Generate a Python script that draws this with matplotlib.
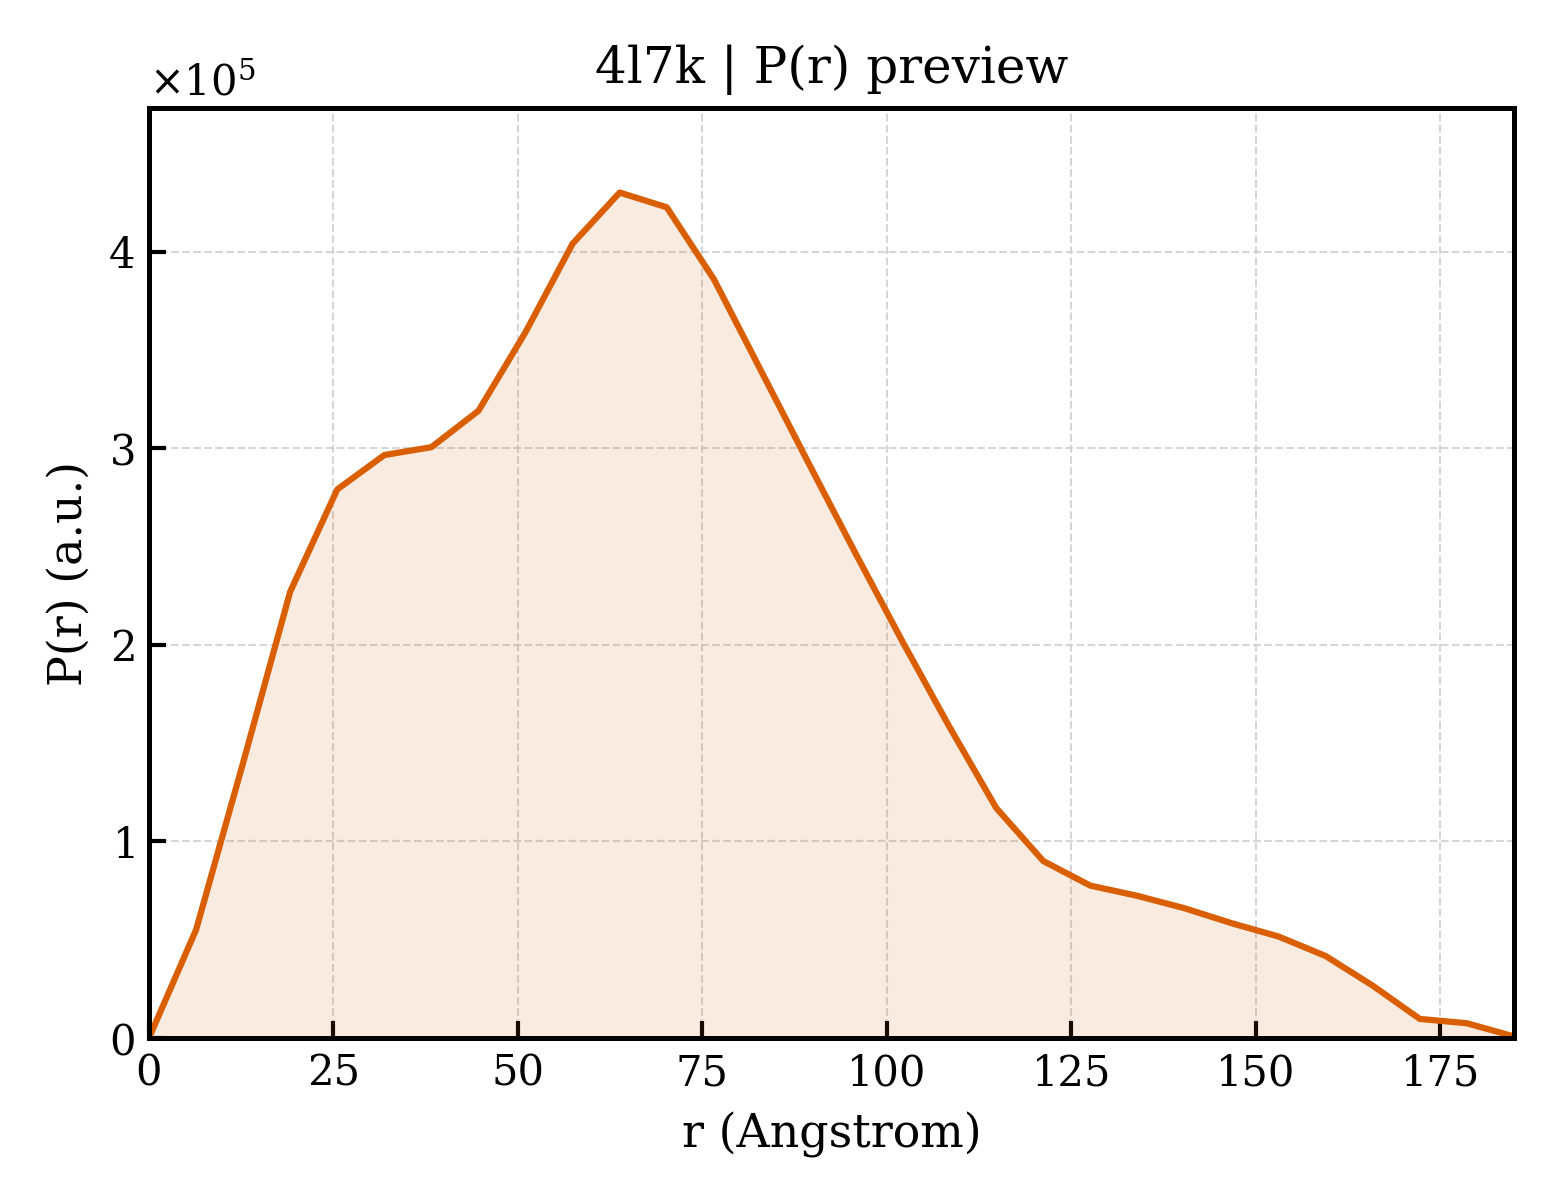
import numpy as np
import matplotlib
matplotlib.use("Agg")
import matplotlib.pyplot as plt
from matplotlib.ticker import ScalarFormatter

plt.rcParams['font.family'] = ['DejaVu Serif']
plt.rcParams['mathtext.fontset'] = 'dejavuserif'

r_max = 185.0
n_points = 30
r = np.linspace(0, r_max, n_points)
pr = np.array([
    0.00, 0.55, 1.40, 2.27, 2.79, 2.965, 3.005, 3.19, 3.59, 4.04,
    4.30, 4.225, 3.86, 3.395, 2.93, 2.47, 2.02, 1.585, 1.17, 0.90,
    0.775, 0.723, 0.66, 0.584, 0.516, 0.417, 0.266, 0.097, 0.075, 0.008,
]) * 1e5

title = "4l7k | P(r) preview"
xlabel = "r (Angstrom)"
ylabel = "P(r) (a.u.)"
color = "#D95F02"

fig = plt.figure(figsize=(5.2, 4.0), dpi=300)
ax = fig.add_axes([0.0955, 0.135, 0.875, 0.775])

ax.fill_between(r, pr, 0, color=color, alpha=0.12, linewidth=0)
ax.plot(r, pr, color=color, linewidth=1.5)

ax.set_xlim(0, r_max)
ax.set_ylim(0, pr.max() * 1.1)
ax.set_xticks(np.arange(0, 176, 25))
ax.set_yticks(np.arange(0, 4.5e5, 1e5))

fmt = ScalarFormatter(useMathText=True)
fmt.set_powerlimits((0, 0))
ax.yaxis.set_major_formatter(fmt)
ax.yaxis.get_offset_text().set_fontsize(10)

ax.grid(True, linestyle='--', linewidth=0.5, color='#cccccc', alpha=0.8)
ax.set_axisbelow(True)

ax.tick_params(direction='in', length=4, width=1.0, labelsize=10,
               top=False, right=False)
for s in ax.spines.values():
    s.set_linewidth(1.2)

ax.set_title(title, fontsize=12)
ax.set_xlabel(xlabel, fontsize=11, labelpad=4.2)
ax.set_ylabel(ylabel, fontsize=11)

fig.savefig("out.png", dpi=300)
